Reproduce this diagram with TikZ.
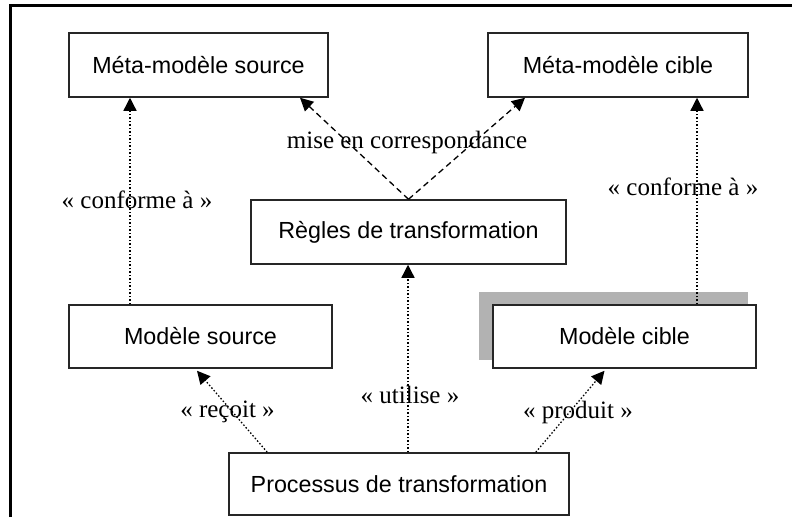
\documentclass[tikz,border=0pt]{standalone}
\usepackage{fontspec}
\setmainfont{Liberation Serif}
\newfontfamily\boxfont{Liberation Sans}
\usetikzlibrary{arrows.meta,calc}

\begin{document}
\begin{tikzpicture}[x=1pt,y=-1pt,
      box/.style={draw=black!85,line width=1.5pt,fill=white,inner sep=0pt,
                  minimum height=64pt,font=\boxfont\fontsize{23.3}{25}\selectfont},
      lbl/.style={inner sep=0pt,font=\fontsize{25}{27}\selectfont},
      conf/.style={line width=1.3pt,dash pattern=on 1.5pt off 2pt,
                   -{Triangle[length=13pt,width=13pt]}},
      corr/.style={line width=1.3pt,dash pattern=on 6pt off 4pt,
                   -{Triangle[length=13pt,width=13pt]}}
     ]
\useasboundingbox (0,0) rectangle (792,517);
\draw[line width=3pt] (10,517) -- (10,5) -- (792,5);

\node[box,minimum width=259pt] (mms) at (198.5,65) {Méta-modèle source};
\node[box,minimum width=260pt] (mmc) at (618,65) {Méta-modèle cible};
\node[box,minimum width=315pt] (regles) at (408.5,232) {Règles de transformation};
\node[box,minimum width=263pt,minimum height=63pt] (ms) at (200.5,336.5) {Modèle source};
\fill[gray!60] (493-14,305-13) rectangle (756-8,368-8);
\node[box,minimum width=263pt,minimum height=63pt] (mc) at (624.5,336.5) {Modèle cible};
\node[box,minimum width=340pt,minimum height=62pt] (proc) at (399,484) {Processus de transformation};

\draw[conf] ([shift={(-70.5,0)}]ms.north) -- ([shift={(-70.5,0)}]ms.north |- mms.south);
\draw[conf] ([shift={(72.5,0)}]mc.north) -- ([shift={(72.5,0)}]mc.north |- mmc.south);
\draw[corr] (regles.north) -- ([shift={(101.5,0)}]mms.south);
\draw[corr] (regles.north) -- ([shift={(-93,0)}]mmc.south);
\draw[conf] ([shift={(9,0)}]proc.north) -- ([shift={(9,0)}]proc.north |- regles.south);
\draw[conf] ([shift={(39,0)}]proc.north west) -- ([shift={(-3.5,2)}]ms.south);
\draw[conf] ([shift={(-34,0)}]proc.north east) -- ([shift={(-20,2)}]mc.south);

\node[lbl] (corrlbl) at (407,142) {mise en correspondance};
\node[lbl] (conflbl1) at (137,200) {« conforme à »};
\node[lbl] (conflbl2) at (683,187) {« conforme à »};
\node[lbl] (utillbl) at (410,395) {« utilise »};
\node[lbl] (recolbl) at (227.5,412) {« reçoit »};
\node[lbl] (prodlbl) at (578,412) {« produit »};
\end{tikzpicture}
\end{document}
